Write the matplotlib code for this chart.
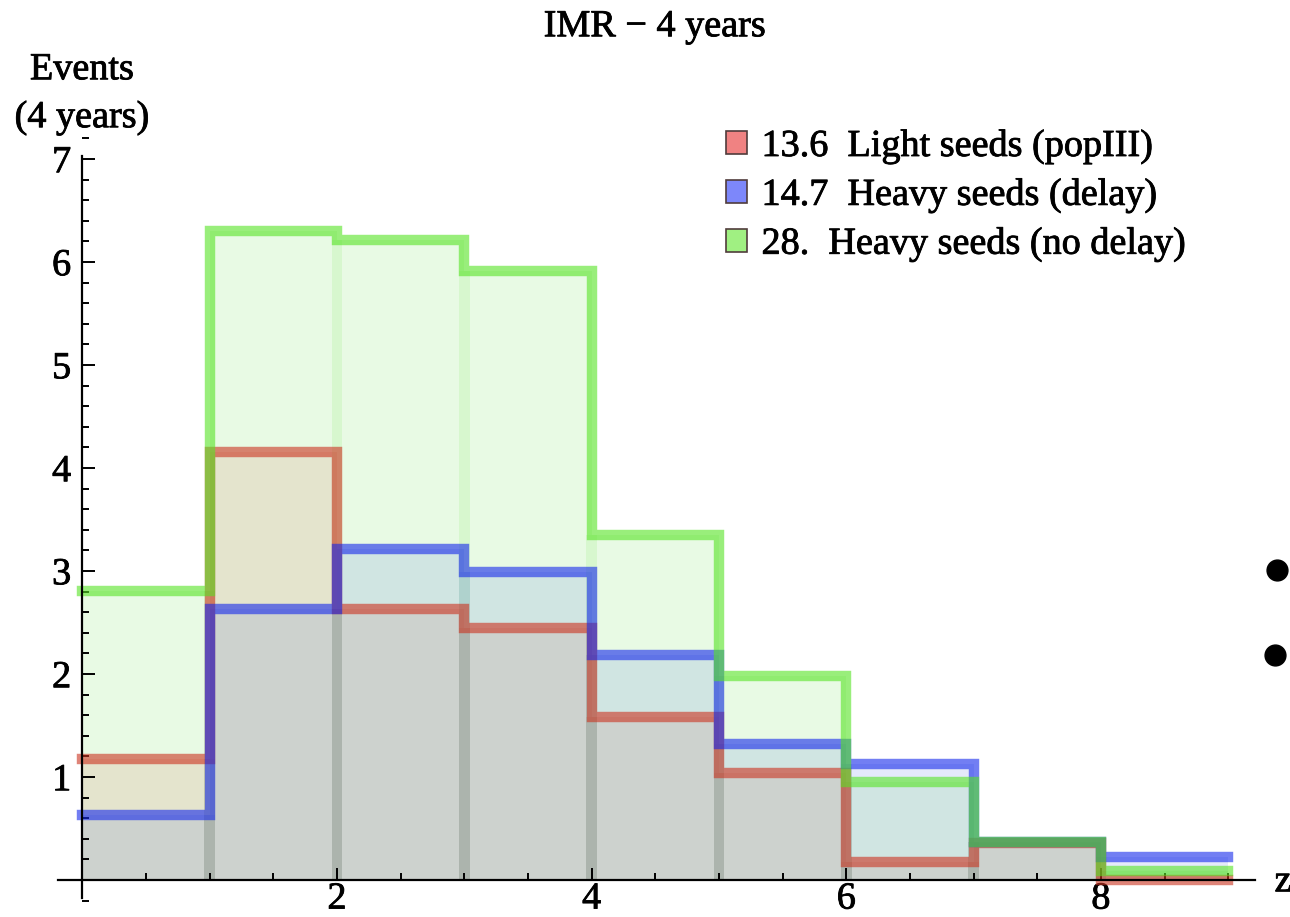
import numpy as np
import matplotlib.pyplot as plt
import matplotlib.patheffects as pe
from matplotlib.patches import Patch
from matplotlib.lines import Line2D
from matplotlib.ticker import MultipleLocator, FixedLocator

plt.rcParams["font.family"] = ["Liberation Serif", "DejaVu Serif"]
FS = 27.5
# slightly heavier glyphs, like the rasterised Times of the original plot
HEAVY = [pe.Stroke(linewidth=0.6, foreground="black"), pe.Normal()]

# redshift bins and event counts per bin (4 years of observation)
edges = np.arange(0, 10)
light_popIII = [1.17, 4.16, 2.63, 2.45, 1.58, 1.04, 0.17, 0.36, 0.0]
heavy_delay = [0.63, 2.63, 3.21, 2.99, 2.18, 1.32, 1.13, 0.37, 0.22]
heavy_nodelay = [2.81, 6.30, 6.21, 5.91, 3.35, 1.98, 0.95, 0.37, 0.09]

labels = ["13.6  Light seeds (popIII)",
          "14.7  Heavy seeds (delay)",
          "28.  Heavy seeds (no delay)"]


def rgb(r, g, b):
    return (r / 255, g / 255, b / 255)


# (heights, fill colour, fill alpha, edge colour, legend swatch)
series = {
    "red": (light_popIII, rgb(210, 105, 75), 0.15, rgb(203, 50, 31), rgb(240, 130, 130)),
    "blue": (heavy_delay, rgb(40, 80, 215), 0.12, rgb(20, 40, 235), rgb(125, 135, 250)),
    "green": (heavy_nodelay, rgb(140, 230, 120), 0.20, rgb(85, 228, 35), rgb(160, 240, 130)),
}

fig = plt.figure(figsize=(12.9, 9.17), dpi=100)
ax = fig.add_axes([0.0342, 0.01227, 0.9624, 0.8368])
ax.set_xlim(-0.3, 9.45)
ax.set_ylim(-0.25, 7.2)

# translucent bin fills
for key in ["green", "red", "blue"]:
    h, fc, fa, ec, sw = series[key]
    ax.bar(edges[:-1], h, width=1.0, align="edge", color=fc, alpha=fa, lw=0, zorder=1)

# faint edge strips where neighbouring bins of one series meet
for key in ["red", "blue", "green"]:
    h, fc, fa, ec, sw = series[key]
    h = np.asarray(h)
    ax.bar(edges[1:-1], np.minimum(h[:-1], h[1:]), width=0.085, align="center",
           color=ec, alpha=0.11, lw=0, zorder=1.5)

# thick step outlines (tops and risers only)
for key in ["red", "blue", "green"]:
    h, fc, fa, ec, sw = series[key]
    ax.stairs(h, edges, baseline=None, color=ec, alpha=0.6, lw=7.5,
              joinstyle="miter", capstyle="projecting", zorder=2)

# axes through the origin
for s in ["top", "right"]:
    ax.spines[s].set_visible(False)
ax.spines["left"].set_position(("data", 0))
ax.spines["bottom"].set_position(("data", 0))
ax.spines["left"].set_bounds(-0.17, 7.03)
ax.spines["bottom"].set_bounds(-0.19, 9.21)
for s in ["left", "bottom"]:
    ax.spines[s].set_linewidth(1.6)
    ax.spines[s].set_zorder(3)

ax.xaxis.set_major_locator(FixedLocator([2, 4, 6, 8]))
ax.xaxis.set_minor_locator(FixedLocator([0.5, 1, 1.5, 2.5, 3, 3.5, 4.5, 5, 5.5,
                                         6.5, 7, 7.5, 8.5, 9]))
ax.yaxis.set_major_locator(FixedLocator([1, 2, 3, 4, 5, 6, 7]))
ax.yaxis.set_minor_locator(MultipleLocator(0.2))
ax.tick_params(which="both", direction="in", width=1.4, labelsize=FS, zorder=3)
ax.tick_params(which="major", length=9)
ax.tick_params(which="minor", length=5)
ax.tick_params(axis="x", pad=1.5)
ax.tick_params(axis="y", pad=8)
for t in ax.get_xticklabels() + ax.get_yticklabels():
    t.set_path_effects(HEAVY)

ax.text(9.43, -0.02, "z", fontsize=FS, ha="center", va="center", path_effects=HEAVY)
fig.text(655 / 1290, 1 - 27 / 917, "IMR \u2212 4 years", fontsize=FS,
         ha="center", va="center", path_effects=HEAVY)
fig.text(82 / 1290, 1 - 70 / 917, "Events", fontsize=FS, ha="center", va="center",
         path_effects=HEAVY)
fig.text(82 / 1290, 1 - 118 / 917, "(4 years)", fontsize=FS, ha="center", va="center",
         path_effects=HEAVY)

handles = [Patch(facecolor=series[k][4], edgecolor=rgb(80, 60, 60), lw=1.2)
           for k in ["red", "blue", "green"]]
leg = fig.legend(handles, labels, loc="upper left",
                 bbox_to_anchor=(726 / 1290, 1 - 129 / 917),
                 frameon=False, fontsize=FS, handlelength=0.55, handleheight=0.55,
                 handletextpad=0.38, labelspacing=0.36, borderaxespad=0, borderpad=0)
for t in leg.get_texts():
    t.set_path_effects(HEAVY)

# two stray bullet dots on the right edge
for xp, yp in [(1277, 570), (1275, 655)]:
    fig.add_artist(Line2D([xp / 1290], [1 - yp / 917], marker="o", ms=15,
                          color="black", transform=fig.transFigure))

fig.savefig("out.png", dpi=100)
